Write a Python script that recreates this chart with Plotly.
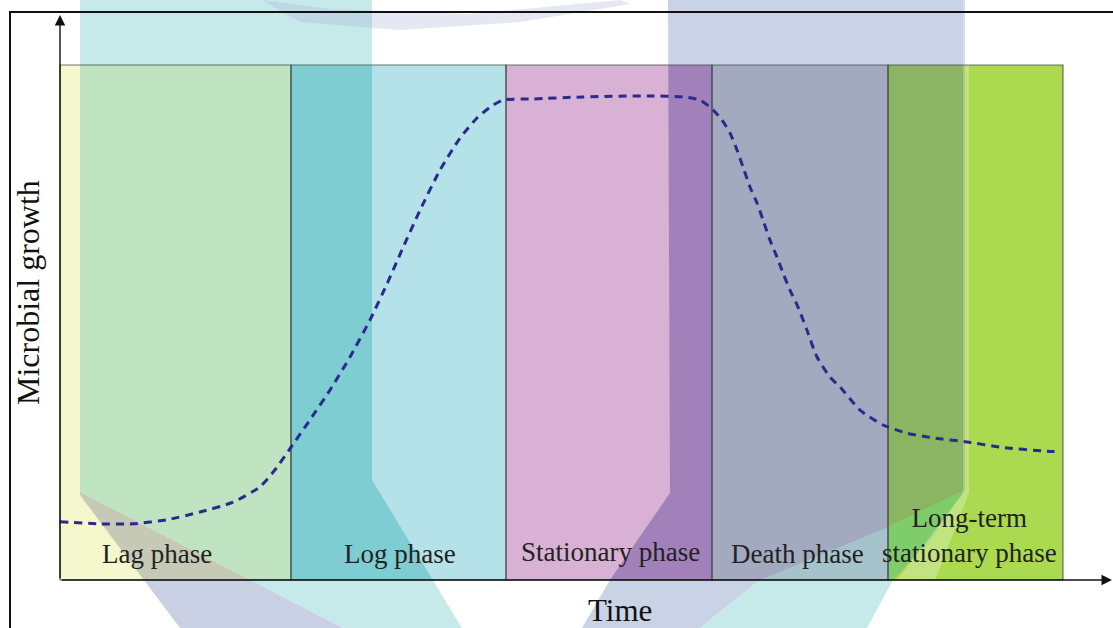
import plotly.graph_objects as go

# ---------------- data ----------------
phase_names = ["Lag phase", "Log phase", "Stationary phase", "Death phase",
               "Long-term<br>stationary phase"]
phase_start = [0.0, 23.1, 44.6, 65.2, 82.8]
phase_end = [23.1, 44.6, 65.2, 82.8, 100.3]
phase_top = 100.0
phase_colors = ["#f5f7cc", "#b5e2e8", "#d8b1d4", "#a3a9bf", "#abd94f"]
label_x = [9.7, 34.0, 55.0, 73.7, 90.9]
label_y = [5.0, 5.0, 5.4, 5.0, 8.6]

time = [0.0, 4.0, 7.3, 10.7, 14.0, 17.3, 20.0, 21.5, 23.1, 25.0, 27.0, 29.0, 31.0,
        32.7, 34.2, 36.0, 38.0, 40.0, 41.7, 43.0, 44.3, 47.3, 52.3, 59.0, 62.3, 64.0,
        65.3, 66.2, 67.0, 67.7, 68.3, 69.0, 69.7, 70.3, 71.0, 71.7, 72.3, 73.0, 73.8,
        74.7, 75.7, 77.0, 78.0, 80.0, 82.3, 84.7, 87.3, 90.7, 94.0, 98.7, 100.0]
growth = [11.3, 10.9, 10.9, 11.7, 13.2, 15.1, 18.1, 21.4, 25.8, 31.1, 36.9, 43.3, 50.5,
          57.5, 64.1, 71.8, 79.6, 85.8, 89.7, 91.8, 93.2, 93.4, 93.8, 94.0, 93.8, 93.2,
          91.3, 89.3, 86.8, 83.5, 80.2, 76.3, 73.2, 69.9, 66.0, 62.7, 59.6, 56.3, 53.0,
          48.5, 43.3, 39.4, 37.5, 33.0, 30.1, 28.5, 27.6, 26.8, 25.8, 25.0, 24.9]

x_title = "Time"
y_title = "Microbial growth"

# ---------------- geometry helpers (decoration only) ----------------
W, H = 1113, 628
X_RANGE = [-6.0, 105.3]
Y_RANGE = [-9.32, 112.62]


def dx(px):
    return X_RANGE[0] + (X_RANGE[1] - X_RANGE[0]) * px / W


def dy(py):
    return Y_RANGE[1] - (Y_RANGE[1] - Y_RANGE[0]) * py / H


def clip(poly, xmin, xmax, ymin, ymax):
    def edge(pts, inside, inter):
        out = []
        for i in range(len(pts)):
            cur, prev = pts[i], pts[i - 1]
            if inside(cur):
                if not inside(prev):
                    out.append(inter(prev, cur))
                out.append(cur)
            elif inside(prev):
                out.append(inter(prev, cur))
        return out

    def ix(p, q, x):
        t = (x - p[0]) / (q[0] - p[0])
        return (x, p[1] + t * (q[1] - p[1]))

    def iy(p, q, y):
        t = (y - p[1]) / (q[1] - p[1])
        return (p[0] + t * (q[0] - p[0]), y)

    pts = list(poly)
    for inside, inter in [
        (lambda p: p[0] >= xmin, lambda p, q: ix(p, q, xmin)),
        (lambda p: p[0] <= xmax, lambda p, q: ix(p, q, xmax)),
        (lambda p: p[1] >= ymin, lambda p, q: iy(p, q, ymin)),
        (lambda p: p[1] <= ymax, lambda p, q: iy(p, q, ymax)),
    ]:
        if not pts:
            return []
        pts = edge(pts, inside, inter)
    return pts


def path_of(pts):
    return "M " + " L ".join(f"{x:.3f},{y:.3f}" for x, y in pts) + " Z"


shapes = []

# phase boxes
for s, e, c in zip(phase_start, phase_end, phase_colors):
    shapes.append(dict(type="rect", xref="x", yref="y", x0=s, x1=e, y0=0, y1=phase_top,
                       fillcolor=c, line=dict(width=0), layer="below"))

# translucent logo watermark over the figure (pixel outlines, region-wise tints)
regions = {
    "top": (X_RANGE[0], X_RANGE[1], phase_top, Y_RANGE[1]),
    "bottom": (X_RANGE[0], X_RANGE[1], Y_RANGE[0], 0.0),
}
for i, (s, e) in enumerate(zip(phase_start, phase_end)):
    regions[i] = (s, e, 0.0, phase_top)

watermark = [
    ([(80, 0), (372, 0), (372, 480), (462, 628), (343, 628), (80, 492)],
     {"top": "#c6eaea", "bottom": "#c6eaea", 0: "#c0e3c2", 1: "#7ecdd3"}),
    ([(80, 492), (343, 628), (180, 628), (80, 495)],
     {"bottom": "#c9d0e4", 0: "#c6c9b5"}),
    ([(668, 0), (965, 0), (965, 490), (888, 527), (760, 580), (700, 628), (582, 628),
      (610, 580), (670, 493)],
     {"top": "#c9d3e5", "bottom": "#c9d3e5", 2: "#a281bb", 3: "#a3a9bf", 4: "#8bb562"}),
    ([(700, 628), (760, 580), (888, 527), (965, 490), (930, 540), (893, 580), (867, 628)],
     {"bottom": "#c6eaea", 3: "#a6c3cb", 4: "#7fcc6a"}),
]
for poly_px, tints in watermark:
    poly = [(dx(a), dy(b)) for a, b in poly_px]
    for key, col in tints.items():
        x0, x1, y0, y1 = regions[key]
        pts = clip(poly, x0, x1, y0, y1)
        if len(pts) >= 3:
            shapes.append(dict(type="path", xref="x", yref="y", path=path_of(pts),
                               fillcolor=col, line=dict(width=0), layer="below"))

# lighter streak of the watermark
light = [
    [(963, 0), (969, 0), (969, 493), (935, 580), (897, 580), (963, 493)],
]
for poly_px in light:
    shapes.append(dict(type="path", xref="x", yref="y",
                       path=path_of([(dx(a), dy(b)) for a, b in poly_px]),
                       fillcolor="rgba(255,255,255,0.28)", line=dict(width=0), layer="below"))
swoosh = [(262, 0), (330, 9), (470, 14), (620, 0), (630, 4), (520, 22), (400, 30), (300, 22)]
shapes.append(dict(type="path", xref="x", yref="y",
                   path=path_of([(dx(a), dy(b)) for a, b in swoosh]),
                   fillcolor="rgba(170,175,215,0.3)", line=dict(width=0), layer="below"))

# box outlines
for s, e in zip(phase_start, phase_end):
    shapes.append(dict(type="rect", xref="x", yref="y", x0=s, x1=e, y0=0, y1=phase_top,
                       fillcolor="rgba(0,0,0,0)",
                       line=dict(color="rgba(60,72,72,0.75)", width=1.2), layer="below"))

# outer frame (left and top)
shapes.append(dict(type="path", xref="x", yref="y",
                   path=f"M {dx(10)},{Y_RANGE[0]} L {dx(10)},{dy(12)} L {X_RANGE[1]},{dy(12)}",
                   line=dict(color="#111111", width=2), layer="above"))

fig = go.Figure()
fig.add_trace(go.Scatter(
    x=time, y=growth, mode="lines",
    line=dict(color="#2b2a8c", width=3, dash="8px,6px", shape="spline", smoothing=0.6),
    hoverinfo="skip", showlegend=False))

annotations = []
for name, lx, ly in zip(phase_names, label_x, label_y):
    annotations.append(dict(x=lx, y=ly, xref="x", yref="y", text=name, showarrow=False,
                            font=dict(family="Liberation Serif", size=27, color="#222222"),
                            xanchor="center", yanchor="middle"))
# axes arrows
annotations.append(dict(x=0, y=dy(15), ax=0, ay=0, xref="x", yref="y", axref="x", ayref="y",
                        text="", showarrow=True, arrowhead=2, arrowsize=1.5,
                        arrowwidth=1.4, arrowcolor="#111111", standoff=0))
annotations.append(dict(x=dx(1112), y=0, ax=0, ay=0, xref="x", yref="y", axref="x",
                        ayref="y", text="", showarrow=True, arrowhead=2, arrowsize=1.5,
                        arrowwidth=1.4, arrowcolor="#111111", standoff=0))
annotations.append(dict(x=dx(620), y=dy(610), xref="x", yref="y", text=x_title,
                        showarrow=False,
                        font=dict(family="Liberation Serif", size=31, color="#111111")))
annotations.append(dict(x=dx(28), y=dy(293), xref="x", yref="y", text=y_title,
                        showarrow=False, textangle=-90,
                        font=dict(family="Liberation Serif", size=32, color="#111111")))

fig.update_layout(
    width=W, height=H, margin=dict(l=0, r=0, t=0, b=0),
    paper_bgcolor="white", plot_bgcolor="white",
    xaxis=dict(range=X_RANGE, visible=False, fixedrange=True),
    yaxis=dict(range=Y_RANGE, visible=False, fixedrange=True),
    shapes=shapes, annotations=annotations, showlegend=False,
)
fig.write_html("out.html", config={"displayModeBar": False},
               post_script="document.body.style.margin='0px';document.body.style.overflow='hidden';")
